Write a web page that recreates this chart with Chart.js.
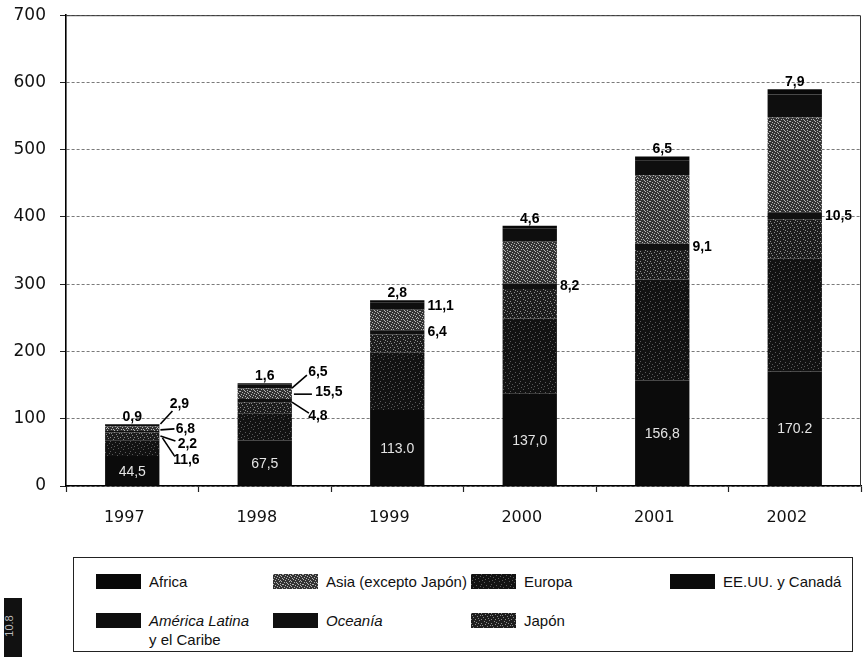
<!DOCTYPE html>
<html>
<head>
<meta charset="utf-8">
<script src="https://cdn.jsdelivr.net/npm/chart.js@4.4.1/dist/chart.umd.min.js"></script>
<style>
  html, body { margin: 0; padding: 0; background: #fff; }
  #wrap { position: relative; width: 863px; height: 657px; overflow: hidden; background: #fff; }
  #c { position: absolute; left: 0; top: -9px; }
  #legend { position: absolute; left: 73px; top: 557px; width: 780px; height: 95px;
            border: 1px solid #222; box-sizing: border-box;
            font-family: "Liberation Sans", Arial, sans-serif; font-size: 15px; color: #111; }
  .item { position: absolute; display: flex; align-items: flex-start; }
  .sw { width: 45px; height: 15px; margin-right: 8px; flex: none; }
  .tx { line-height: 19px; margin-top: -2px; }
  #tab { position: absolute; left: 4px; top: 598px; width: 18px; height: 62px; background: #111; }
  #tab span { position: absolute; left: -6px; top: 22px; transform: rotate(-90deg); color: #bbb;
              font: 11px "Liberation Sans", Arial, sans-serif; white-space: nowrap; }
</style>
</head>
<body>
<div id="wrap">
  <canvas id="c" width="863" height="554"></canvas>
  <div id="legend"></div>
  <div id="tab"><span>10.8</span></div>
</div>
<script>
// ---- data (millones) ----
const years   = ['1997', '1998', '1999', '2000', '2001', '2002'];
const eeuu    = [44.5, 67.5, 113.0, 137.0, 156.8, 170.2];
const europa  = [23.4, 40.5, 85.2, 112.0, 150.2, 167.8];
const japon   = [11.6, 16.5, 27.0, 43.8, 43.9, 58.5];
const oceania = [2.2, 4.8, 6.4, 8.2, 9.1, 10.5];
const asia    = [6.8, 15.5, 30.5, 62.0, 102.0, 141.0];
const latam   = [2.9, 6.5, 11.1, 19.4, 21.5, 34.1];
const africa  = [0.9, 1.6, 2.8, 4.6, 6.5, 7.9];
const eeuuLabels = ['44,5', '67,5', '113.0', '137,0', '156,8', '170.2'];
const yTicks  = [0, 100, 200, 300, 400, 500, 600, 700];

const seriesNames = ['EE.UU. y Canadá', 'Europa', 'Japón', 'Oceanía',
                     'Asia (excepto Japón)', 'América Latina y el Caribe', 'Africa'];
const seriesData  = [eeuu, europa, japon, oceania, asia, latam, africa];

// ---- deterministic halftone-like patterns ----
function makePattern(base, dot, rows) {
  const c = document.createElement('canvas');
  c.width = rows[0].length; c.height = rows.length;
  const x = c.getContext('2d');
  x.fillStyle = base; x.fillRect(0, 0, c.width, c.height);
  x.fillStyle = dot;
  rows.forEach((r, j) => { for (let i = 0; i < r.length; i++) if (r[i] === '1') x.fillRect(i, j, 1, 1); });
  return c;
}
const asiaTile = makePattern('#333', '#b4b4b4', [
  '1000010001', '0010000100', '0000100010', '0100001000', '0001000001',
  '1000010000', '0010000100', '0000001010', '0101000000', '0000100100']);
const japTile = makePattern('#1d1d1d', '#8a8a8a', [
  '1000000100', '0000100000', '0100000001', '0000001000', '0010000000',
  '0000000100', '1000100000', '0000000010', '0001000000', '0000010000']);
const eurTile = makePattern('#121212', '#5a5a5a', [
  '1000000000', '0000010000', '0000000001', '0010000000', '0000000100',
  '0000100000', '0100000000', '0000000010', '0001000000', '0000000000']);
const cx0 = document.getElementById('c').getContext('2d');
const fills = ['#0b0b0b', cx0.createPattern(eurTile, 'repeat'), cx0.createPattern(japTile, 'repeat'),
               '#101010', cx0.createPattern(asiaTile, 'repeat'), '#0e0e0e', '#080808'];
const swatchCss = ['#0b0b0b', 'url(' + eurTile.toDataURL() + ')', 'url(' + japTile.toDataURL() + ')',
                   '#101010', 'url(' + asiaTile.toDataURL() + ')', '#0e0e0e', '#080808'];

const fmt = v => v.toFixed(1).replace('.', ',');

// callout layout per year: s = dataset index; dx/dy text centre from bar top-right; l = leader line
const callouts = [
  [ {s: 5, dx: 20, dy: -20, l: [1, 0, 13, -13]}, {s: 4, dx: 26, dy: 5, l: [1, 6, 15, 5]},
    {s: 3, dx: 28, dy: 20, l: [1, 12, 16, 17]}, {s: 2, dx: 27, dy: 36, l: [3, 14, 15, 32]} ],
  [ {s: 5, dx: 26, dy: -11, l: [0, 5, 15, -8]}, {s: 4, dx: 37, dy: 9, l: [2, 11, 20, 11]},
    {s: 3, dx: 26, dy: 33, l: [0, 19, 17, 30]} ],
  [ {s: 5}, {s: 3} ],
  [ {s: 3} ], [ {s: 3} ], [ {s: 3} ]
];

const labelPlugin = {
  id: 'vals',
  afterDatasetsDraw(chart) {
    const ctx = chart.ctx;
    const ca = chart.chartArea;
    ctx.save();
    ctx.strokeStyle = '#333'; ctx.lineWidth = 1; ctx.setLineDash([]);
    ctx.beginPath(); ctx.moveTo(ca.left, ca.top + 0.5); ctx.lineTo(ca.right - 0.5, ca.top + 0.5);
    ctx.lineTo(ca.right - 0.5, ca.bottom); ctx.stroke();

    const m = i => chart.getDatasetMeta(i).data;
    ctx.font = '14px "Liberation Sans", Arial, sans-serif';
    ctx.fillStyle = '#e4e4e4'; ctx.textAlign = 'center'; ctx.textBaseline = 'middle';
    m(0).forEach((b, i) => ctx.fillText(eeuuLabels[i], b.x, (b.y + b.base) / 2 + 1));

    ctx.font = 'bold 14px "Liberation Sans", Arial, sans-serif';
    ctx.fillStyle = '#000';
    ctx.textBaseline = 'alphabetic';
    m(6).forEach((b, i) => ctx.fillText(fmt(africa[i]), b.x, b.y - 3));

    ctx.strokeStyle = '#000'; ctx.lineWidth = 1.6;
    callouts.forEach((list, i) => {
      const top = m(6)[i];
      const xr = top.x + top.width / 2, yt = top.y;
      list.forEach(c => {
        const v = seriesData[c.s][i];
        if (c.dx !== undefined) {
          ctx.beginPath(); ctx.moveTo(xr + c.l[0], yt + c.l[1]); ctx.lineTo(xr + c.l[2], yt + c.l[3]); ctx.stroke();
          ctx.textAlign = 'center'; ctx.textBaseline = 'middle';
          ctx.fillText(fmt(v), xr + c.dx, yt + c.dy);
        } else {
          const b = m(c.s)[i];
          ctx.textAlign = 'left'; ctx.textBaseline = 'middle';
          ctx.fillText(fmt(v), b.x + b.width / 2 + 3, (b.y + b.base) / 2);
        }
      });
    });
    ctx.restore();
  }
};

new Chart(document.getElementById('c'), {
  type: 'bar',
  data: {
    labels: years,
    datasets: seriesNames.map((n, k) => ({
      label: n, data: seriesData[k], backgroundColor: fills[k], borderWidth: 0,
      barPercentage: 0.41, categoryPercentage: 1.0
    }))
  },
  options: {
    responsive: false, animation: false, devicePixelRatio: 1,
    layout: { padding: { top: 0, right: 2, left: 0, bottom: 0 } },
    plugins: { legend: { display: false }, tooltip: { enabled: false } },
    scales: {
      x: {
        stacked: true,
        afterFit: s => { s.height = 59; },
        grid: { offset: true, drawOnChartArea: false, tickLength: 6, tickColor: '#222', tickWidth: 1.2 },
        border: { color: '#000', width: 1.6 },
        ticks: { color: '#111', padding: 16, labelOffset: -8,
                 font: { family: '"DejaVu Sans", Verdana, sans-serif', size: 16 } }
      },
      y: {
        stacked: true, min: 0, max: 700,
        afterFit: s => { s.width = 66; },
        afterBuildTicks: s => { s.ticks = yTicks.map(v => ({ value: v })); },
        grid: { color: '#7a7a7a', lineWidth: 1, tickLength: 6, tickColor: '#222' },
        border: { color: '#000', width: 1.6, dash: [3, 2] },
        ticks: { color: '#111', padding: 14, font: { family: '"DejaVu Sans", Verdana, sans-serif', size: 17 } }
      }
    }
  },
  plugins: [labelPlugin]
});

// ---- legend ----
const legendOrder = [6, 4, 1, 0, 5, 3, 2];
const legendHtml = {
  5: '<i>América Latina</i><br>y el Caribe',
  3: '<i>Oceanía</i>'
};
const colX = [22, 199, 397, 596], rowY = [16, 55];
const lg = document.getElementById('legend');
legendOrder.forEach((k, n) => {
  const d = document.createElement('div');
  d.className = 'item';
  d.style.left = colX[n % 4] + 'px';
  d.style.top = rowY[Math.floor(n / 4)] + 'px';
  const sw = document.createElement('div');
  sw.className = 'sw'; sw.style.background = swatchCss[k];
  const tx = document.createElement('div');
  tx.className = 'tx'; tx.innerHTML = legendHtml[k] || seriesNames[k];
  d.appendChild(sw); d.appendChild(tx); lg.appendChild(d);
});
</script>
</body>
</html>
